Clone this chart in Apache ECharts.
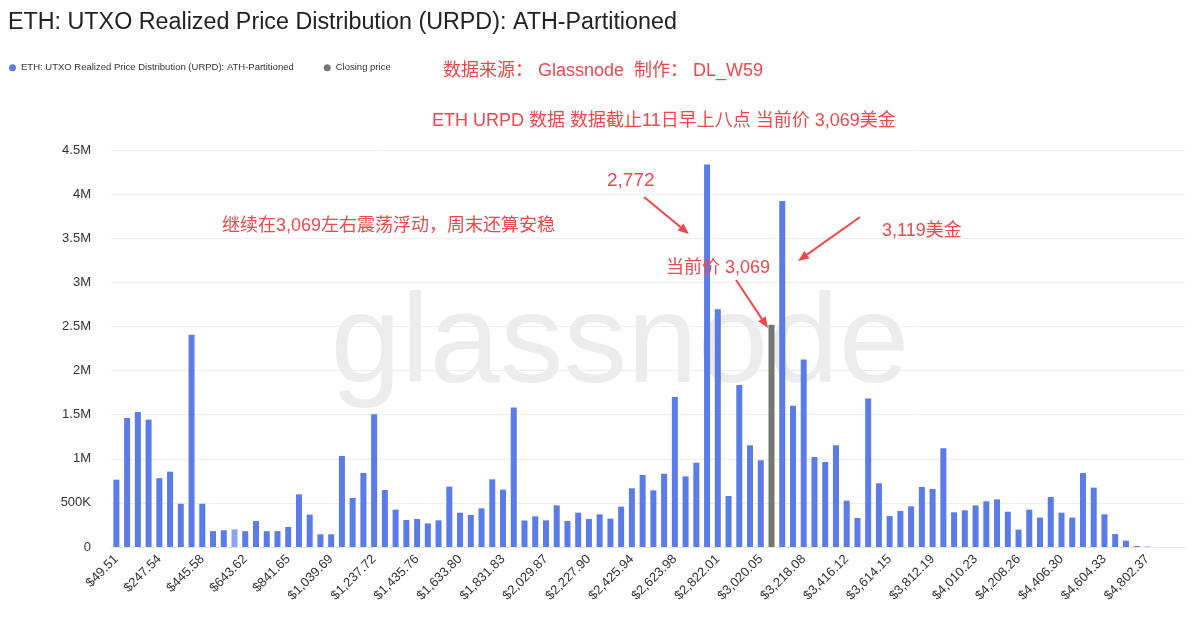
<!DOCTYPE html>
<html>
<head>
<meta charset="utf-8">
<title>ETH URPD</title>
<script src="https://cdn.jsdelivr.net/npm/echarts@6/dist/echarts.min.js"></script>
<style type="text/css">
html,body{margin:0;padding:0;background:#fff;}
#urpd{width:1200px;height:620px;}
</style>
</head>
<body>
<div id="urpd"></div>
<script>
// bin width of the ATH-partitioned buckets (100 buckets)
var binWidth = 49.50897;
var binCount = 100;
var closeIndex = 61;   // 3,069 bucket

// supply per bucket, in millions of ETH
var supplyM = [
  0.763, 1.463, 1.53, 1.444, 0.78, 0.854, 0.49, 2.407, 0.49, 0.18,
  0.19, 0.20, 0.18, 0.295, 0.18, 0.18, 0.227, 0.597, 0.367, 0.144,
  0.144, 1.032, 0.556, 0.839, 1.504, 0.646, 0.423, 0.306, 0.317, 0.268,
  0.302, 0.684, 0.389, 0.363, 0.438, 0.767, 0.65, 1.58, 0.30, 0.348,
  0.302, 0.472, 0.295, 0.389, 0.317, 0.37, 0.321, 0.457, 0.665, 0.816,
  0.642, 0.831, 1.70, 0.80, 0.956, 4.335, 2.695, 0.578, 1.837, 1.153,
  0.983, 2.52, 3.923, 1.602, 2.124, 1.02, 0.964, 1.153, 0.525, 0.329,
  1.682, 0.722, 0.351, 0.408, 0.461, 0.68, 0.658, 1.119, 0.393, 0.416,
  0.472, 0.518, 0.54, 0.40, 0.197, 0.423, 0.333, 0.567, 0.389, 0.333,
  0.839, 0.673, 0.37, 0.147, 0.072, 0.012, 0.005, 0, 0, 0
];
var yTicks = [0, 500000, 1000000, 1500000, 2000000, 2500000, 3000000, 3500000, 4000000, 4500000];

var blue = '#5b7be8';
var grey = '#767676';
var red = '#f0474a';
var latin = "'Liberation Sans', 'Noto Sans CJK SC', sans-serif";

var prices = [];
for (var i = 0; i < binCount; i++) {
  prices.push('$' + ((i + 1) * binWidth).toLocaleString('en-US', {minimumFractionDigits: 2, maximumFractionDigits: 2}));
}

var urpdData = [], closeData = [];
for (var i = 0; i < binCount; i++) {
  var v = Math.round(supplyM[i] * 1e6);
  if (i === closeIndex) {
    urpdData.push('-');
    closeData.push(v);
  } else if (i === 11) {
    urpdData.push({value: v, itemStyle: {color: '#8ea3ee'}});
    closeData.push('-');
  } else {
    urpdData.push(v);
    closeData.push('-');
  }
}

function fmtY(v) {
  if (v >= 1e6) return (v / 1e6) + 'M';
  if (v >= 1e3) return (v / 1e3) + 'K';
  return v;
}

// arrow = line + small triangle head
function arrow(x1, y1, x2, y2) {
  var a = Math.atan2(y2 - y1, x2 - x1), L = 11, W = 4.5;
  var bx = x2 - L * Math.cos(a), by = y2 - L * Math.sin(a);
  return [
    {type: 'line', shape: {x1: x1, y1: y1, x2: bx, y2: by}, style: {stroke: red, lineWidth: 2}, z: 100},
    {type: 'polygon', shape: {points: [[x2, y2],
      [bx + W * Math.sin(a), by - W * Math.cos(a)],
      [bx - W * Math.sin(a), by + W * Math.cos(a)]]}, style: {fill: red}, z: 100}
  ];
}

function note(text, x, y, size) {
  return {type: 'text', left: x, top: y - size / 2 - 1, z: 100,
    style: {text: text, fill: red, font: size + 'px ' + latin}};
}

var graphics = [
  {type: 'text', x: 620, y: 347, z: 0, silent: true,
    style: {text: 'glassnode', fill: 'rgba(0,0,0,0.075)', font: '500 127px ' + latin,
      textAlign: 'center', textVerticalAlign: 'middle'}},
  note('数据来源： Glassnode  制作： DL_W59', 443, 72, 18),
  note('ETH URPD 数据 数据截止11日早上八点 当前价 3,069美金', 432, 122, 18),
  note('继续在3,069左右震荡浮动，周末还算安稳', 222, 227, 18),
  note('2,772', 607, 182, 19),
  note('3,119美金', 882, 232, 18),
  note('当前价 3,069', 666, 269, 18)
].concat(arrow(644, 197, 689, 234))
 .concat(arrow(860, 217, 798, 261))
 .concat(arrow(736, 280, 768, 328));

var myChart = echarts.init(document.getElementById('urpd'));
var option = {
  backgroundColor: '#fff',
  animation: false,
  title: {
    text: 'ETH: UTXO Realized Price Distribution (URPD): ATH-Partitioned',
    left: 3, top: 6,
    textStyle: {fontSize: 23.3, fontWeight: 'normal', color: '#222', fontFamily: latin}
  },
  legend: {
    left: 4, top: 58,
    icon: 'circle', itemWidth: 7, itemHeight: 7, itemGap: 30,
    textStyle: {fontSize: 9.5, color: '#333', fontFamily: latin},
    data: ['ETH: UTXO Realized Price Distribution (URPD): ATH-Partitioned', 'Closing price']
  },
  grid: {left: 111, right: 15, top: 150, bottom: 73, containLabel: false},
  xAxis: {
    type: 'category',
    data: prices,
    axisTick: {show: false},
    axisLine: {lineStyle: {color: '#e6e6e6'}},
    axisLabel: {interval: 3, rotate: 45, margin: 10, fontSize: 13, color: '#333', fontFamily: latin}
  },
  yAxis: {
    type: 'value',
    min: 0, max: 4500000, interval: 500000,
    axisLabel: {formatter: fmtY, fontSize: 13, color: '#333', margin: 20, fontFamily: latin},
    splitLine: {lineStyle: {color: '#eeeeee'}},
    axisLine: {show: false}, axisTick: {show: false}
  },
  series: [
    {
      name: 'ETH: UTXO Realized Price Distribution (URPD): ATH-Partitioned',
      type: 'bar', barWidth: 6, barGap: '-100%',
      itemStyle: {color: blue},
      data: urpdData
    },
    {
      name: 'Closing price',
      type: 'bar', barWidth: 6,
      itemStyle: {color: grey},
      data: closeData
    }
  ],
  graphic: graphics
};
myChart.setOption(option);
</script>
</body>
</html>
